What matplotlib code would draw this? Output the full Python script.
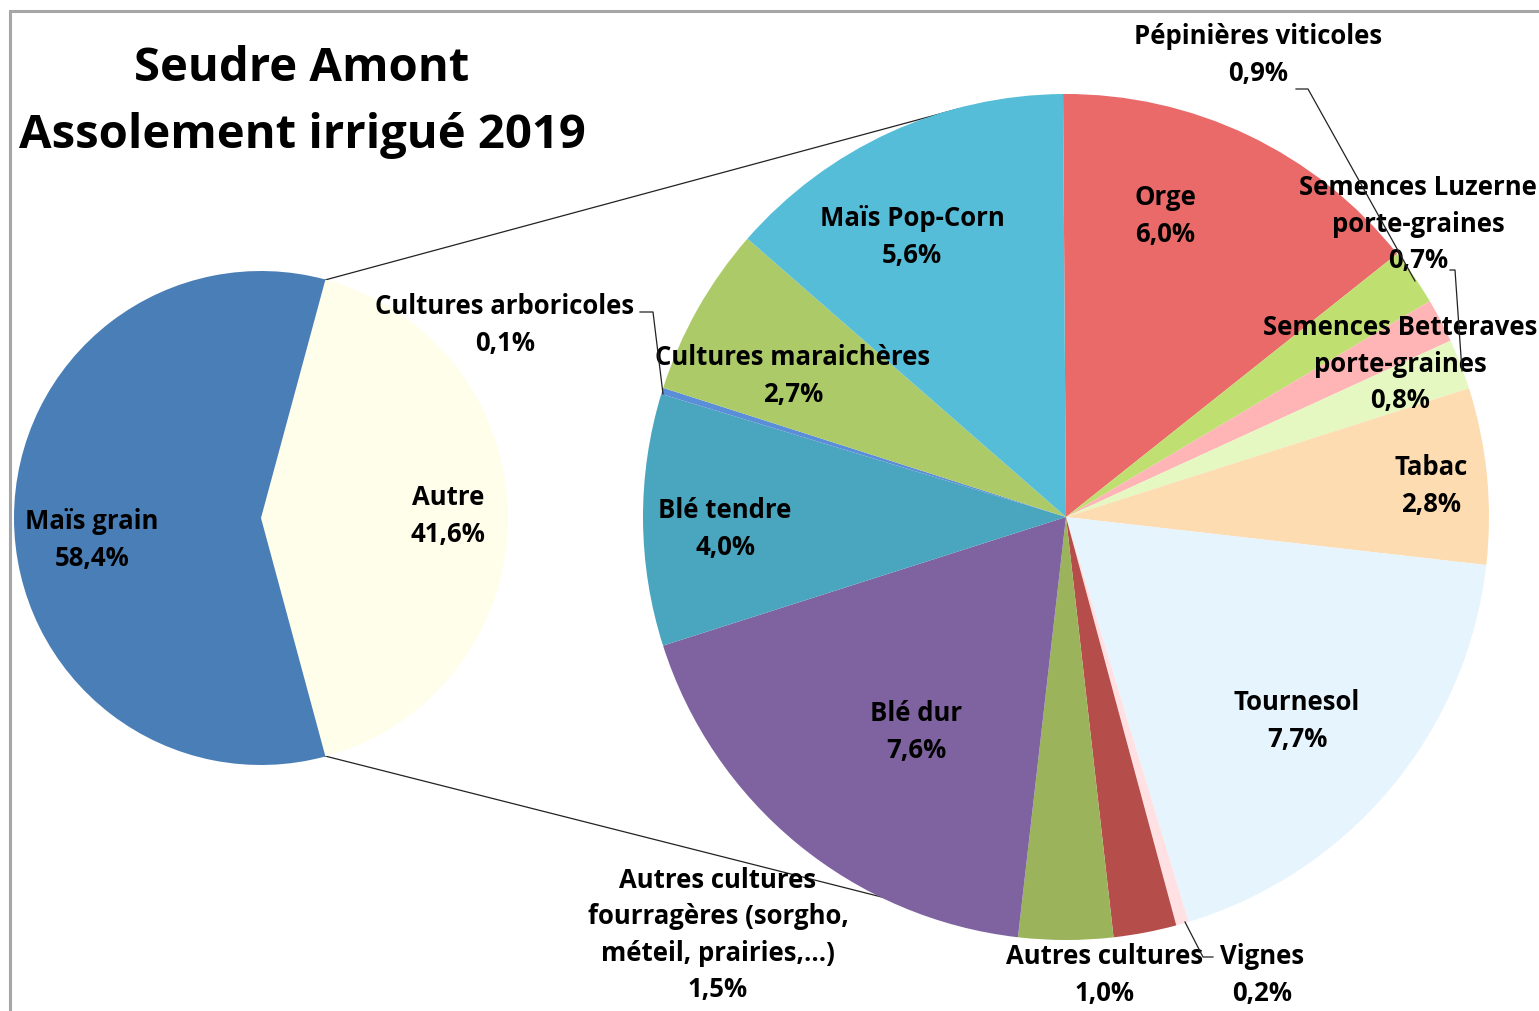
import matplotlib
matplotlib.use("Agg")
import matplotlib.pyplot as plt

W, H = 1539, 1012

# ---- data ----
main_labels = ["Autre", "Maïs grain"]
main_values = [41.6, 58.4]
main_colors = ["#FFFEEA", "#4A7EB6"]

sub_labels = ["Orge", "Pépinières viticoles", "Semences Luzerne\nporte-graines",
              "Semences Betteraves\nporte-graines", "Tabac", "Tournesol", "Vignes",
              "Autres cultures", "Autres cultures\nfourragères (sorgho,\nméteil, prairies,...)",
              "Blé dur", "Blé tendre", "Cultures arboricoles", "Cultures maraichères",
              "Maïs Pop-Corn"]
sub_values = [6.0, 0.9, 0.7, 0.8, 2.8, 7.7, 0.2, 1.0, 1.5, 7.6, 4.0, 0.1, 2.7, 5.6]
sub_colors = ["#EA6A6A", "#BFE070", "#FFB4B6", "#E6F8C2", "#FDDCB2", "#E6F4FD",
              "#FFE1E4", "#B54E4B", "#9BB35A", "#7F63A0", "#4AA5BE", "#5B8ED8",
              "#ACCB68", "#56BDD8"]

title_lines = ["Seudre Amont", "Assolement irrigué 2019"]

plt.rcParams['font.family'] = ['Open Sans', 'DejaVu Sans']

fig = plt.figure(figsize=(W / 100, H / 100), dpi=100)
ax = fig.add_axes([0, 0, 1, 1])


def P(x, y):
    return (x, H - y)


# connector lines (behind pies)
ax.plot(*zip(P(325, 281), P(958, 110)), color="#222222", lw=0.9, zorder=1)
ax.plot(*zip(P(325, 757), P(1000, 928)), color="#222222", lw=0.9, zorder=1)

# main pie
half = main_values[0] / sum(main_values) * 360 / 2
w1, _ = ax.pie(main_values, colors=main_colors, startangle=-half, counterclock=True,
               center=P(261, 519), radius=247, wedgeprops=dict(linewidth=0), frame=True)
for w in w1:
    w.set_zorder(2)

# secondary pie
w2, _ = ax.pie(sub_values, colors=sub_colors, startangle=90.4, counterclock=False,
               center=P(1066, 518), radius=423, wedgeprops=dict(linewidth=0), frame=True)
for w in w2:
    w.set_zorder(2)

ax.set_xlim(0, W)
ax.set_ylim(0, H)
ax.set_aspect('equal')
ax.axis('off')

# border (top and left)
ax.plot([10, 10, W], [0, H - 12, H - 12], color="#A6A6A6", lw=2.2, zorder=5,
        solid_joinstyle='miter')

# title
ax.text(*P(302, 68), title_lines[0], ha='center', va='center', fontsize=34,
        fontweight='bold', zorder=6)
ax.text(*P(302, 135), title_lines[1], ha='center', va='center', fontsize=34,
        fontweight='bold', zorder=6)


def pct(v):
    return f"{v:.1f}%".replace(".", ",")


FS = 18.5
LS = 1.43


def lab(x, y, name, value):
    ax.text(*P(x, y), f"{name}\n{pct(value)}", ha='center', va='center', fontsize=FS,
            fontweight='bold', linespacing=LS, zorder=6)


lab(92, 540, main_labels[1], main_values[1])
lab(448, 516, main_labels[0], main_values[0])

pos = [(1165, 216), (1258, 55), (1418, 224), (1400, 364), (1431, 486), (1297, 721),
       (1262, 975), (1105, 975), (718, 935), (916, 732), (725, 529), (505, 325),
       (793, 376), (912, 237)]
for (x, y), n, v in zip(pos, sub_labels, sub_values):
    lab(x, y, n, v)

# leader lines
leaders = [
    [(1296, 90), (1308, 90), (1415, 282)],
    [(1450, 271), (1455, 271), (1462, 372)],
    [(640, 313), (653, 313), (663, 395)],
    [(1213, 958), (1203, 958), (1185, 923)],
]
for pts in leaders:
    xs, ys = zip(*[P(a, b) for a, b in pts])
    ax.plot(xs, ys, color="#222222", lw=0.9, zorder=7)

fig.savefig("out.png", dpi=100)
